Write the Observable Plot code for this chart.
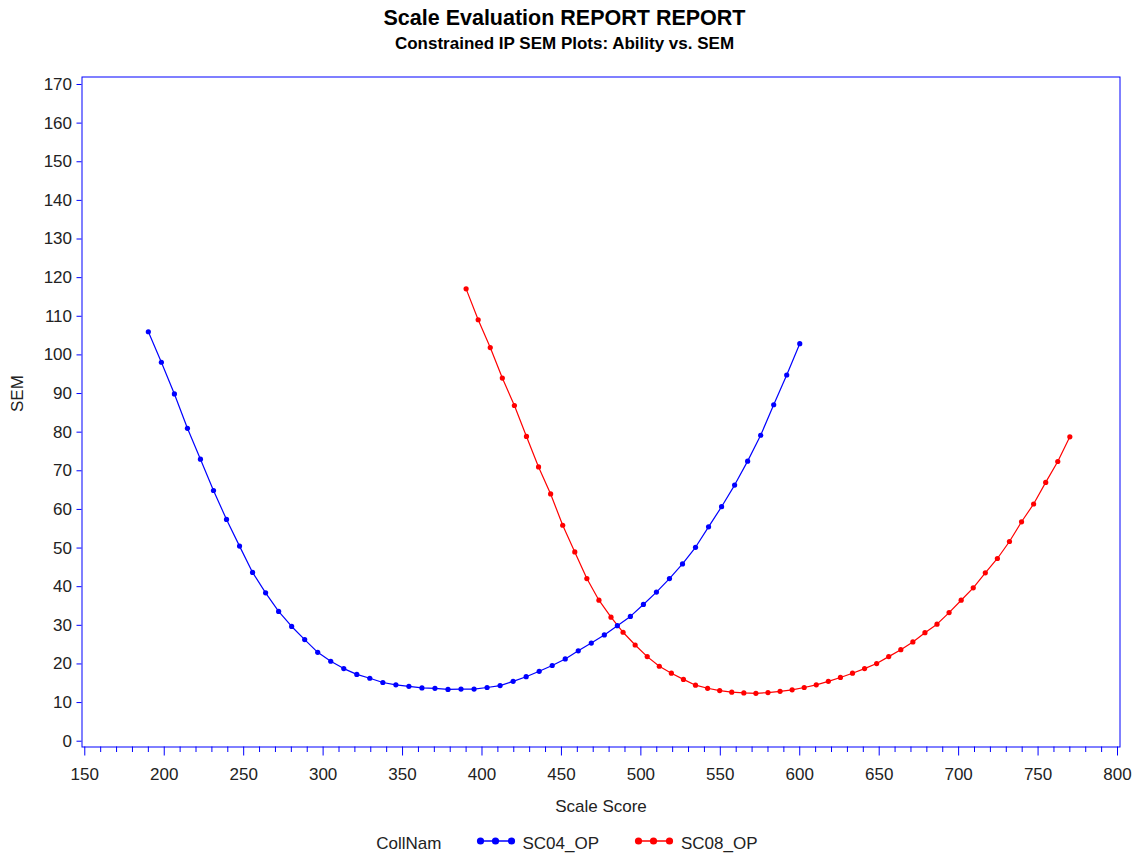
<!DOCTYPE html>
<html>
<head>
<meta charset="utf-8">
<script src="https://cdn.jsdelivr.net/npm/d3@7"></script>
<script src="https://cdn.jsdelivr.net/npm/@observablehq/plot@0.6"></script>
<style>
  body { margin: 0; background: #fff; font-family: "Liberation Sans", Arial, sans-serif; }
  #wrap { position: relative; width: 1137px; height: 859px; overflow: hidden; }
  #chart { position: absolute; left: 0; top: 0; }
  .ttl { position: absolute; left: 0; width: 1137px; text-align: center; font-weight: bold; color: #000; line-height: 1; white-space: nowrap; }
  .leg { position: absolute; font-size: 17px; line-height: 1; color: #222; white-space: nowrap; }
  .sw { position: absolute; }
</style>
</head>
<body>
<div id="wrap">
  <div id="chart"></div>
  <div class="ttl" style="top:8px;left:-4px;font-size:21.5px">Scale Evaluation REPORT REPORT</div>
  <div class="ttl" style="top:35px;left:-4px;font-size:17px">Constrained IP SEM Plots: Ability vs. SEM</div>
  <div id="legend"></div>
</div>
<script>
// Series names and colours
const seriesNames = ["SC04_OP", "SC08_OP"];
const seriesColors = ["#0000ff", "#ff0000"];

// SC04_OP: scale score and standard error of measurement
const sc04Score = [190, 198.2, 206.4, 214.6, 222.8, 231, 239.2, 247.4, 255.6, 263.8, 272, 280.2, 288.4, 296.6, 304.8, 313, 321.2, 329.4, 337.6, 345.8, 354, 362.2, 370.4, 378.6, 386.8, 395, 403.2, 411.4, 419.6, 427.8, 436, 444.2, 452.4, 460.6, 468.8, 477, 485.2, 493.4, 501.6, 509.8, 518, 526.2, 534.4, 542.6, 550.8, 559, 567.2, 575.4, 583.6, 591.8, 600];
const sc04Sem = [106.0, 98.1, 89.9, 81.0, 73.0, 64.9, 57.4, 50.5, 43.7, 38.4, 33.6, 29.7, 26.3, 23.0, 20.7, 18.8, 17.3, 16.3, 15.2, 14.6, 14.2, 13.8, 13.7, 13.4, 13.5, 13.5, 13.9, 14.4, 15.5, 16.7, 18.1, 19.6, 21.3, 23.4, 25.4, 27.5, 29.9, 32.3, 35.4, 38.6, 42.1, 45.9, 50.2, 55.5, 60.7, 66.3, 72.5, 79.2, 87.1, 94.8, 102.9];

// SC08_OP: scale score and standard error of measurement
const sc08Score = [390, 397.6, 405.2, 412.8, 420.4, 428, 435.6, 443.2, 450.8, 458.4, 466, 473.6, 481.2, 488.8, 496.4, 504, 511.6, 519.2, 526.8, 534.4, 542, 549.6, 557.2, 564.8, 572.4, 580, 587.6, 595.2, 602.8, 610.4, 618, 625.6, 633.2, 640.8, 648.4, 656, 663.6, 671.2, 678.8, 686.4, 694, 701.6, 709.2, 716.8, 724.4, 732, 739.6, 747.2, 754.8, 762.4, 770];
const sc08Sem = [117.1, 109.1, 101.9, 94.0, 86.9, 78.9, 71.0, 64.0, 55.9, 49.0, 42.1, 36.5, 32.1, 28.2, 24.9, 21.9, 19.4, 17.6, 16.0, 14.5, 13.7, 13.1, 12.7, 12.5, 12.4, 12.6, 12.9, 13.3, 13.9, 14.6, 15.5, 16.5, 17.6, 18.8, 20.1, 21.9, 23.7, 25.7, 28.1, 30.3, 33.3, 36.5, 39.7, 43.6, 47.3, 51.7, 56.8, 61.4, 67.0, 72.4, 78.8];

// Axis ticks
const xMajorTicks = [150, 200, 250, 300, 350, 400, 450, 500, 550, 600, 650, 700, 750, 800];
const xMinorTicks = [160, 170, 180, 190, 210, 220, 230, 240, 260, 270, 280, 290, 310, 320, 330, 340, 360, 370, 380, 390, 410, 420, 430, 440, 460, 470, 480, 490, 510, 520, 530, 540, 560, 570, 580, 590, 610, 620, 630, 640, 660, 670, 680, 690, 710, 720, 730, 740, 760, 770, 780, 790];
const yTicks = [0, 10, 20, 30, 40, 50, 60, 70, 80, 90, 100, 110, 120, 130, 140, 150, 160, 170];

const rows = [
  ...sc04Score.map((s, i) => ({series: seriesNames[0], score: s, sem: sc04Sem[i]})),
  ...sc08Score.map((s, i) => ({series: seriesNames[1], score: s, sem: sc08Sem[i]}))
];

const ink = "#222";
const frameBlue = "#0000ff";

const chart = Plot.plot({
  width: 1137,
  height: 859,
  marginTop: 76.5,
  marginBottom: 112.5,
  marginLeft: 81.5,
  marginRight: 17.5,
  style: {fontFamily: "'Liberation Sans', Arial, sans-serif", background: "#fff"},
  x: {domain: [148.24, 801.57]},
  y: {domain: [-1.5, 171.94]},
  color: {domain: seriesNames, range: seriesColors},
  marks: [
    Plot.axisY({ticks: yTicks, tickSize: 5, tickPadding: 5, stroke: frameBlue, fill: ink, fontSize: 17, label: null}),
    Plot.axisX({ticks: xMajorTicks, tickSize: 9, tickPadding: 11.5, stroke: frameBlue, fill: ink, fontSize: 17, label: null}),
    Plot.axisX({ticks: xMinorTicks, tickSize: 5.5, tickFormat: () => "", stroke: frameBlue, label: null}),
    Plot.frame({stroke: frameBlue, strokeWidth: 1}),
    Plot.line(rows, {x: "score", y: "sem", z: "series", stroke: "series", strokeWidth: 1.2}),
    Plot.dot(rows, {x: "score", y: "sem", fill: "series", r: 2.6}),
    Plot.text(["SEM"], {frameAnchor: "left", dx: -64, rotate: -90, fontSize: 17, fill: ink}),
    Plot.text(["Scale Score"], {frameAnchor: "bottom", dy: 65, fontSize: 17, fill: ink})
  ]
});
document.getElementById("chart").appendChild(chart);

// Legend: group label, then a line-with-markers swatch and name per series
const legend = document.getElementById("legend");
const legendItems = [
  {text: "CollNam", left: 376.3},
  {text: seriesNames[0], left: 522.5, swatch: 476, color: seriesColors[0]},
  {text: seriesNames[1], left: 681, swatch: 634, color: seriesColors[1]}
];
for (const item of legendItems) {
  if (item.swatch !== undefined) {
    const ns = "http://www.w3.org/2000/svg";
    const svg = document.createElementNS(ns, "svg");
    svg.setAttribute("class", "sw");
    svg.setAttribute("width", 42);
    svg.setAttribute("height", 12);
    svg.style.left = item.swatch + "px";
    svg.style.top = "834.7px";
    const ln = document.createElementNS(ns, "line");
    ln.setAttribute("x1", 2); ln.setAttribute("x2", 38);
    ln.setAttribute("y1", 6); ln.setAttribute("y2", 6);
    ln.setAttribute("stroke", item.color); ln.setAttribute("stroke-width", 1.6);
    svg.appendChild(ln);
    for (const cx of [4.5, 19.5, 35.5]) {
      const c = document.createElementNS(ns, "circle");
      c.setAttribute("cx", cx); c.setAttribute("cy", 6); c.setAttribute("r", 3.6);
      c.setAttribute("fill", item.color);
      svg.appendChild(c);
    }
    legend.appendChild(svg);
  }
  const d = document.createElement("div");
  d.className = "leg";
  d.textContent = item.text;
  d.style.left = item.left + "px";
  d.style.top = "835px";
  legend.appendChild(d);
}
</script>
</body>
</html>
